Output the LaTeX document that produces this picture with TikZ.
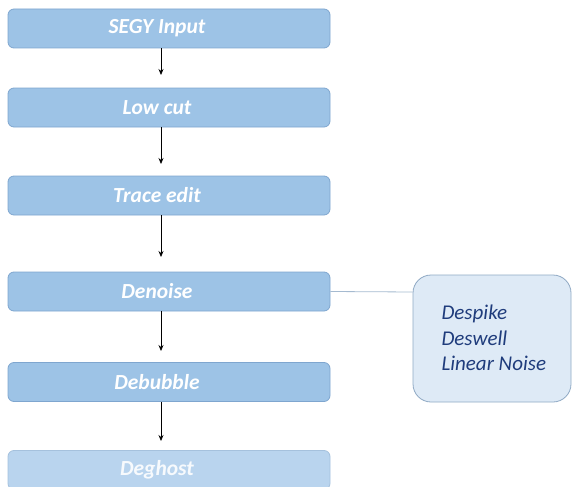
\documentclass[tikz,border=0pt]{standalone}
\usepackage{fontspec}
\setmainfont{Carlito}
\usetikzlibrary{arrows.meta}
\definecolor{boxfill}{HTML}{9DC3E6}
\definecolor{boxline}{HTML}{7FA6CF}
\definecolor{lastfill}{HTML}{B9D4EE}
\definecolor{sidefill}{HTML}{DEEAF6}
\definecolor{sideline}{HTML}{8FA9C4}
\definecolor{sidetext}{HTML}{1F3C7C}
\tikzset{
  stepbox/.style={draw=boxline, line width=0.8pt, fill=boxfill, rounded corners=6pt,
    minimum width=322pt, minimum height=39pt, inner sep=0pt,
    font=\fontsize{21.5}{24}\selectfont\bfseries\itshape, text=white,
    execute at end node=\hspace*{24pt}},
  lastbox/.style={stepbox, fill=lastfill, draw=boxline!70, text=white!92!boxfill},
  sidebox/.style={draw=sideline, line width=0.8pt, fill=sidefill, rounded corners=18pt,
    minimum width=158pt, minimum height=127pt, inner sep=0pt},
  flow/.style={-{Stealth[length=6pt,width=5pt]}, line width=0.7pt, black},
  link/.style={draw=sideline!80, line width=0.8pt}
}
\begin{document}
\begin{tikzpicture}[x=1pt,y=-1pt]
\useasboundingbox (0,0) rectangle (573,487);
\node[stepbox] (n1) at (169,28.5) {SEGY Input};
\node[stepbox] (n2) at (169,107.5) {Low cut};
\node[stepbox] (n3) at (169,195.5) {Trace edit};
\node[stepbox] (n4) at (169,291.5) {Denoise};
\node[stepbox] (n5) at (169,382) {Debubble};
\node[lastbox] (n6) at (169,470) {Deghost};
\coordinate (a1) at (161,75);
\coordinate (a2) at (161,164);
\coordinate (a3) at (161,257);
\coordinate (a4) at (161,351);
\coordinate (a5) at (161,441);
\draw[flow] (n1.south -| a1) -- (a1);
\draw[flow] (n2.south -| a2) -- (a2);
\draw[flow] (n3.south -| a3) -- (a3);
\draw[flow] (n4.south -| a4) -- (a4);
\draw[flow] (n5.south -| a5) -- (a5);
\node[sidebox] (s) at (492,338.5) {};
\node[anchor=west, text=sidetext, font=\fontsize{21}{25.5}\selectfont\itshape, align=left] (st) at (438,338) {Despike\\Deswell\\Linear Noise};
\draw[link] (n4.east) -- (s.west |- 0,292);
\end{tikzpicture}
\end{document}
